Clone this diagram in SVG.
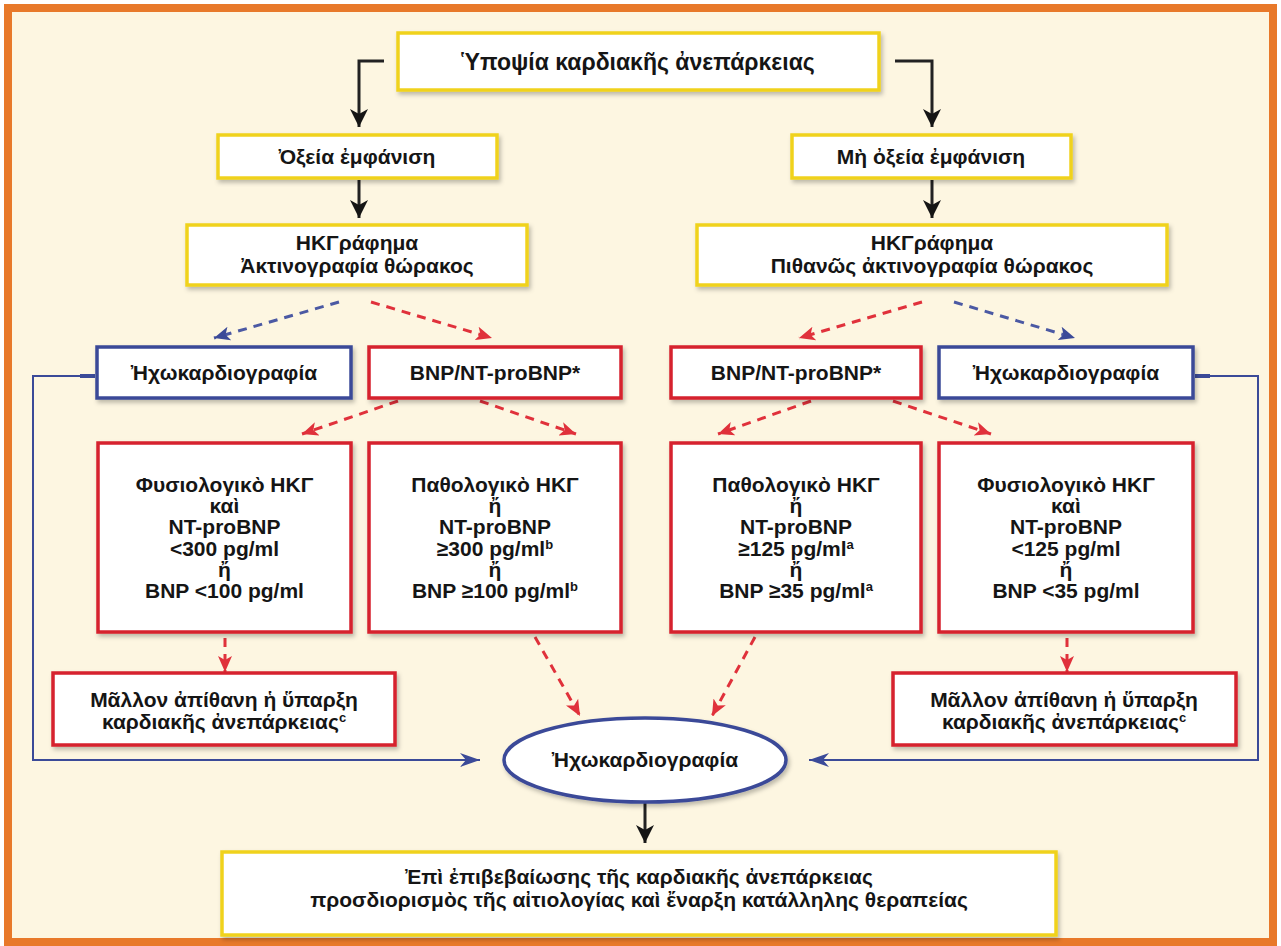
<svg xmlns="http://www.w3.org/2000/svg" width="1281" height="946" viewBox="0 0 1281 946">
<defs>
<style>
.box{fill:#fff;stroke-width:3.5}
.y{stroke:#F0D21E}
.r{stroke:#D6212E}
.b{stroke:#3B4A98}
text{font-family:"Liberation Sans",Arial,"Noto Sans",sans-serif;font-weight:bold;font-size:21px;fill:#151515;text-anchor:middle}
.big{font-size:23px}
.sup{font-size:13px}
.solid{fill:none;stroke:#222;stroke-width:3}
.dr{fill:none;stroke:#E0313B;stroke-width:3;stroke-dasharray:9 7}
.db{fill:none;stroke:#4B59A3;stroke-width:3;stroke-dasharray:9 7}
.bl{fill:none;stroke:#3B4A98;stroke-width:2}
</style>
<filter id="sh" x="-10%" y="-10%" width="125%" height="130%">
<feDropShadow dx="2" dy="3" stdDeviation="2" flood-color="#000" flood-opacity="0.25"/>
</filter>
<marker id="ak" viewBox="0 0 18 20" refX="18" refY="10" markerWidth="18" markerHeight="20" markerUnits="userSpaceOnUse" orient="auto">
<path d="M0,1 L18,10 L0,19 L5,10 z" fill="#151515"/>
</marker>
<marker id="ar" viewBox="0 0 16 16" refX="16" refY="8" markerWidth="16" markerHeight="16" markerUnits="userSpaceOnUse" orient="auto">
<path d="M0,1 L16,8 L0,15 L4,8 z" fill="#E0313B"/>
</marker>
<marker id="ab" viewBox="0 0 16 16" refX="16" refY="8" markerWidth="16" markerHeight="16" markerUnits="userSpaceOnUse" orient="auto">
<path d="M0,1 L16,8 L0,15 L4,8 z" fill="#3B4A98"/>
</marker>
<marker id="ab2" viewBox="0 0 20 14" refX="20" refY="7" markerWidth="20" markerHeight="14" markerUnits="userSpaceOnUse" orient="auto">
<path d="M0,0 L20,7 L0,14 L6,7 z" fill="#3B4A98"/>
</marker>
</defs>

<rect x="8" y="8" width="1265" height="934" fill="#FDF6E1" stroke="#E8792A" stroke-width="8"/>

<g id="connectors">
<path class="solid" d="M384,61 H359 V127" stroke="#555" marker-end="url(#ak)"/>
<path class="solid" d="M895,61 H932 V127" stroke="#555" marker-end="url(#ak)"/>
<path class="solid" d="M359,180 V218" marker-end="url(#ak)"/>
<path class="solid" d="M932,180 V218" marker-end="url(#ak)"/>
<path class="db" d="M339,302 L214,338" marker-end="url(#ab)"/>
<path class="dr" d="M371,302 L492,338" marker-end="url(#ar)"/>
<path class="dr" d="M922,302 L799,338" marker-end="url(#ar)"/>
<path class="db" d="M954,302 L1075,338" marker-end="url(#ab)"/>
<path class="dr" d="M398,401 L302,434" marker-end="url(#ar)"/>
<path class="dr" d="M480,401 L576,434" marker-end="url(#ar)"/>
<path class="dr" d="M811,401 L718,434" marker-end="url(#ar)"/>
<path class="dr" d="M893,401 L991,434" marker-end="url(#ar)"/>
<path class="dr" d="M225,638 V672" marker-end="url(#ar)"/>
<path class="dr" d="M1067,638 V672" marker-end="url(#ar)"/>
<path class="dr" d="M535,637 L580,716" marker-end="url(#ar)"/>
<path class="dr" d="M755,637 L712,716" marker-end="url(#ar)"/>
<path class="bl" d="M95,376 H33 V760 H480" marker-end="url(#ab2)"/>
<path d="M80,376 H95" stroke="#3B4A98" stroke-width="4"/>
<path class="bl" d="M1195,376 H1258 V760 H809" marker-end="url(#ab2)"/>
<path d="M1195,376 H1210" stroke="#3B4A98" stroke-width="4"/>
<path class="solid" d="M645,802 V843" marker-end="url(#ak)"/>
</g>

<g id="n-top"><rect class="box y" x="398" y="33" width="481" height="57" filter="url(#sh)"/><text class="big" x="638" y="70">Ὑποψία καρδιακῆς ἀνεπάρκειας</text></g>
<g id="n-acute"><rect class="box y" x="218" y="135" width="279" height="43" filter="url(#sh)"/><text x="357" y="164">Ὀξεία ἐμφάνιση</text></g>
<g id="n-nonacute"><rect class="box y" x="792" y="135" width="279" height="43" filter="url(#sh)"/><text x="931" y="164">Μὴ ὀξεία ἐμφάνιση</text></g>
<g id="n-ecg1"><rect class="box y" x="187" y="225" width="340" height="60" filter="url(#sh)"/><text x="357" y="250">ΗΚΓράφημα</text><text x="357" y="273">Ἀκτινογραφία θώρακος</text></g>
<g id="n-ecg2"><rect class="box y" x="697" y="225" width="470" height="60" filter="url(#sh)"/><text x="932" y="250">ΗΚΓράφημα</text><text x="932" y="273">Πιθανῶς ἀκτινογραφία θώρακος</text></g>

<g id="n-echo1"><rect class="box b" x="97" y="347" width="254" height="51" filter="url(#sh)"/><text x="224" y="380">Ἠχωκαρδιογραφία</text></g>
<g id="n-bnp1"><rect class="box r" x="369" y="347" width="252" height="51" filter="url(#sh)"/><text x="495" y="380">BNP/NT-proBNP*</text></g>
<g id="n-bnp2"><rect class="box r" x="671" y="347" width="250" height="51" filter="url(#sh)"/><text x="796" y="380">BNP/NT-proBNP*</text></g>
<g id="n-echo2"><rect class="box b" x="939" y="347" width="254" height="51" filter="url(#sh)"/><text x="1066" y="380">Ἠχωκαρδιογραφία</text></g>

<g id="n-normal1"><rect class="box r" x="98" y="443" width="253" height="189" filter="url(#sh)"/>
<text x="224.5" y="492">Φυσιολογικὸ ΗΚΓ</text><text x="224.5" y="513">καὶ</text><text x="224.5" y="534">NT-proBNP</text><text x="224.5" y="556">&lt;300 pg/ml</text><text x="224.5" y="577">ἤ</text><text x="224.5" y="598">BNP &lt;100 pg/ml</text></g>
<g id="n-abn1"><rect class="box r" x="369" y="443" width="252" height="189" filter="url(#sh)"/>
<text x="495" y="492">Παθολογικὸ ΗΚΓ</text><text x="495" y="513">ἤ</text><text x="495" y="534">NT-proBNP</text><text x="495" y="556">≥300 pg/ml<tspan class="sup" dy="-7">b</tspan></text><text x="495" y="577">ἤ</text><text x="495" y="598">BNP ≥100 pg/ml<tspan class="sup" dy="-7">b</tspan></text></g>
<g id="n-abn2"><rect class="box r" x="671" y="443" width="250" height="189" filter="url(#sh)"/>
<text x="796" y="492">Παθολογικὸ ΗΚΓ</text><text x="796" y="513">ἤ</text><text x="796" y="534">NT-proBNP</text><text x="796" y="556">≥125 pg/ml<tspan class="sup" dy="-7">a</tspan></text><text x="796" y="577">ἤ</text><text x="796" y="598">BNP ≥35 pg/ml<tspan class="sup" dy="-7">a</tspan></text></g>
<g id="n-normal2"><rect class="box r" x="939" y="443" width="254" height="189" filter="url(#sh)"/>
<text x="1066" y="492">Φυσιολογικὸ ΗΚΓ</text><text x="1066" y="513">καὶ</text><text x="1066" y="534">NT-proBNP</text><text x="1066" y="556">&lt;125 pg/ml</text><text x="1066" y="577">ἤ</text><text x="1066" y="598">BNP &lt;35 pg/ml</text></g>

<g id="n-unlikely1"><rect class="box r" x="53" y="673" width="342" height="72" filter="url(#sh)"/><text x="224" y="707">Μᾶλλον ἀπίθανη ἡ ὕπαρξη</text><text x="224" y="729">καρδιακῆς ἀνεπάρκειας<tspan class="sup" dy="-7">c</tspan></text></g>
<g id="n-unlikely2"><rect class="box r" x="893" y="673" width="343" height="72" filter="url(#sh)"/><text x="1064" y="707">Μᾶλλον ἀπίθανη ἡ ὕπαρξη</text><text x="1064" y="729">καρδιακῆς ἀνεπάρκειας<tspan class="sup" dy="-7">c</tspan></text></g>

<g id="n-echo-final"><ellipse cx="645" cy="760" rx="141" ry="42" fill="#fff" stroke="#3B4A98" stroke-width="3.5" filter="url(#sh)"/><text x="645" y="767">Ἠχωκαρδιογραφία</text></g>

<g id="n-final"><rect class="box y" x="222" y="852" width="834" height="83" filter="url(#sh)"/><text x="639" y="884">Ἐπὶ ἐπιβεβαίωσης τῆς καρδιακῆς ἀνεπάρκειας</text><text x="639" y="907">προσδιορισμὸς τῆς αἰτιολογίας καὶ ἔναρξη κατάλληλης θεραπείας</text></g>
</svg>
